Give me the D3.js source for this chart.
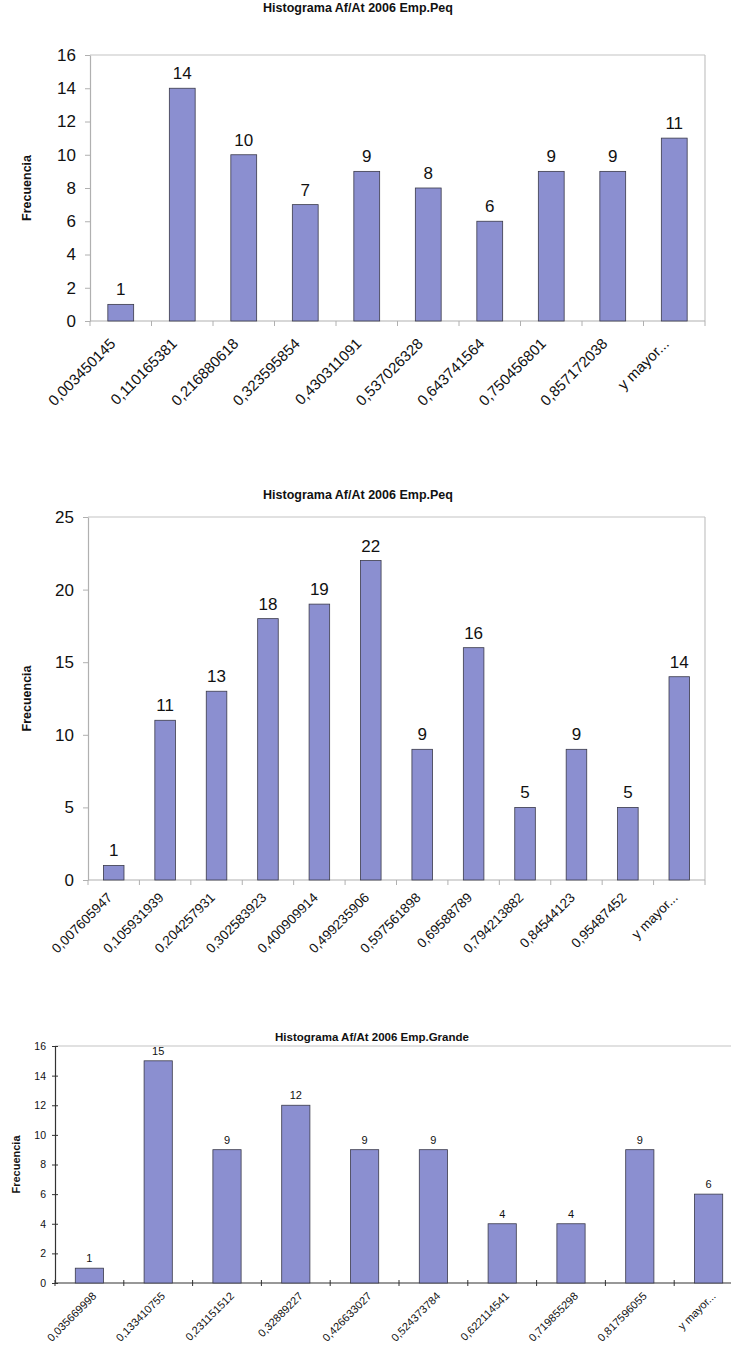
<!doctype html>
<html>
  <head>
    <style>
      body { margin: 0; background: white; }
      text { font-family: "Liberation Sans", Arial, Helvetica, sans-serif; fill: #111; }
      .title { font-family: "Liberation Sans Narrow", "Liberation Sans", Arial, sans-serif; font-weight: bold; }
      .ytitle { font-weight: bold; }
    </style>
    <script src="https://cdnjs.cloudflare.com/ajax/libs/d3/7.8.5/d3.min.js"></script>
  </head>
  <body>
    <div id="chart"></div>
    <script>
      var width = 731, height = 1355;

      // chart 1 - Emp.Peq
      var cats1 = ["0,003450145", "0,110165381", "0,216880618", "0,323595854", "0,430311091",
                   "0,537026328", "0,643741564", "0,750456801", "0,857172038", "y mayor..."];
      var freq1 = [1, 14, 10, 7, 9, 8, 6, 9, 9, 11];
      var ticks1 = [0, 2, 4, 6, 8, 10, 12, 14, 16];

      // chart 2 - Emp.Peq
      var cats2 = ["0,007605947", "0,105931939", "0,204257931", "0,302583923", "0,400909914", "0,499235906",
                   "0,597561898", "0,69588789", "0,794213882", "0,84544123", "0,95487452", "y mayor..."];
      var freq2 = [1, 11, 13, 18, 19, 22, 9, 16, 5, 9, 5, 14];
      var ticks2 = [0, 5, 10, 15, 20, 25];

      // chart 3 - Emp.Grande
      var cats3 = ["0,035669998", "0,133410755", "0,231151512", "0,32889227", "0,426633027",
                   "0,524373784", "0,622114541", "0,719855298", "0,817596055", "y mayor..."];
      var freq3 = [1, 15, 9, 12, 9, 9, 4, 4, 9, 6];
      var ticks3 = [0, 2, 4, 6, 8, 10, 12, 14, 16];

      var titles = ["Histograma Af/At 2006 Emp.Peq", "Histograma Af/At 2006 Emp.Peq", "Histograma Af/At 2006 Emp.Grande"];
      var barColor = "#8b8fd0";

      var svg = d3.select("#chart").append("svg")
                  .attr("width", width)
                  .attr("height", height);

      function drawChart(o) {
        var g = svg.append("g");
        var x = d3.scaleBand().domain(o.cats).range([o.left, o.right]).paddingInner(o.pad).paddingOuter(o.pad / 2);
        var y = d3.scaleLinear().domain([0, d3.max(o.ticks)]).range([o.bottom, o.top]);

        // title
        g.append("text").attr("class", "title")
         .attr("x", o.titleX).attr("y", o.titleY)
         .attr("text-anchor", "middle")
         .style("font-size", o.titleSize + "px")
         .text(o.title);

        // plot border
        g.append("line").attr("x1", o.left).attr("x2", o.right).attr("y1", o.top).attr("y2", o.top)
         .attr("stroke", "#c4c4c4").attr("stroke-width", 1.2);
        if (o.rightBorder) {
          g.append("line").attr("x1", o.right).attr("x2", o.right).attr("y1", o.top).attr("y2", o.bottom)
           .attr("stroke", "#c4c4c4").attr("stroke-width", 1.2);
        }

        // y axis
        var yAxis = d3.axisLeft(y).tickValues(o.ticks).tickSizeInner(o.ytick).tickSizeOuter(0).tickPadding(o.ypadding);
        var ya = g.append("g").attr("transform", "translate(" + o.left + ",0)").call(yAxis);
        ya.select(".domain").attr("stroke", o.axisColor).attr("stroke-width", 1.2);
        ya.selectAll(".tick line").attr("stroke", o.axisColor).attr("x2", o.crossTicks ? o.ytick : -o.ytick)
          .attr("x1", o.crossTicks ? -o.ytick : 0);
        ya.selectAll(".tick text").style("font-size", o.ySize + "px").attr("fill", "#111")
          .style("font-family", "'Liberation Sans', Arial, sans-serif");

        // x axis
        g.append("line").attr("x1", o.left).attr("x2", o.right).attr("y1", o.bottom).attr("y2", o.bottom)
         .attr("stroke", o.axisColor).attr("stroke-width", 1.2);
        var step = x.step();
        var bounds = o.cats.map(function(d) { return x(d) - (step - x.bandwidth()) / 2; });
        bounds.push(o.right);
        g.selectAll(".xtick").data(bounds).enter().append("line")
         .attr("x1", function(d) { return d; }).attr("x2", function(d) { return d; })
         .attr("y1", o.bottom - (o.crossTicks ? o.xtick : 0)).attr("y2", o.bottom + o.xtick)
         .attr("stroke", o.axisColor);

        g.selectAll(".xlab").data(o.cats).enter().append("text")
         .attr("transform", function(d) {
           return "translate(" + (x(d) + x.bandwidth() / 2 + o.labDx) + "," + (o.bottom + o.labDy) + ") rotate(-45)";
         })
         .attr("text-anchor", "end")
         .attr("dy", "0.35em")
         .style("font-size", o.xSize + "px")
         .text(function(d) { return d; });

        // axis title
        g.append("text").attr("class", "ytitle")
         .attr("transform", "translate(" + o.yTitleX + "," + ((o.top + o.bottom) / 2) + ") rotate(-90)")
         .attr("text-anchor", "middle")
         .style("font-size", o.yTitleSize + "px")
         .text("Frecuencia");

        // bars
        g.selectAll(".bar").data(o.freq).enter().append("rect")
         .attr("x", function(d, i) { return x(o.cats[i]); })
         .attr("y", function(d) { return y(d); })
         .attr("width", x.bandwidth())
         .attr("height", function(d) { return o.bottom - y(d); })
         .attr("fill", barColor)
         .attr("stroke", "#3a3a4a").attr("stroke-width", 0.8);

        // value labels
        g.selectAll(".val").data(o.freq).enter().append("text")
         .attr("x", function(d, i) { return x(o.cats[i]) + x.bandwidth() / 2; })
         .attr("y", function(d) { return y(d) - o.valGap; })
         .attr("text-anchor", "middle")
         .style("font-size", o.valSize + "px")
         .text(function(d) { return d; });
      }

      drawChart({ cats: cats1, freq: freq1, ticks: ticks1, title: titles[0],
        left: 90, right: 705, top: 55, bottom: 321, pad: 0.58,
        titleX: 358, titleY: 12, titleSize: 12.5, rightBorder: true, axisColor: "#b0b0b0",
        ytick: 5, ypadding: 9, ySize: 17, crossTicks: false, xtick: 5,
        labDx: -8, labDy: 20, xSize: 15, yTitleX: 31, yTitleSize: 12.5, valGap: 9, valSize: 17 });

      drawChart({ cats: cats2, freq: freq2, ticks: ticks2, title: titles[1],
        left: 88, right: 705, top: 517, bottom: 880, pad: 0.6,
        titleX: 358, titleY: 499, titleSize: 12.5, rightBorder: true, axisColor: "#b0b0b0",
        ytick: 5, ypadding: 9, ySize: 17, crossTicks: false, xtick: 5,
        labDx: -4, labDy: 15, xSize: 13.5, yTitleX: 31, yTitleSize: 12.5, valGap: 9, valSize: 17 });

      drawChart({ cats: cats3, freq: freq3, ticks: ticks3, title: titles[2],
        left: 55, right: 743, top: 1046, bottom: 1283, pad: 0.59,
        titleX: 372, titleY: 1041, titleSize: 11.5, rightBorder: false, axisColor: "#333",
        ytick: 3, ypadding: 6, ySize: 10.5, crossTicks: true, xtick: 3,
        labDx: 5, labDy: 11, xSize: 11, yTitleX: 20, yTitleSize: 11, valGap: 6, valSize: 11 });
    </script>
  </body>
</html>
